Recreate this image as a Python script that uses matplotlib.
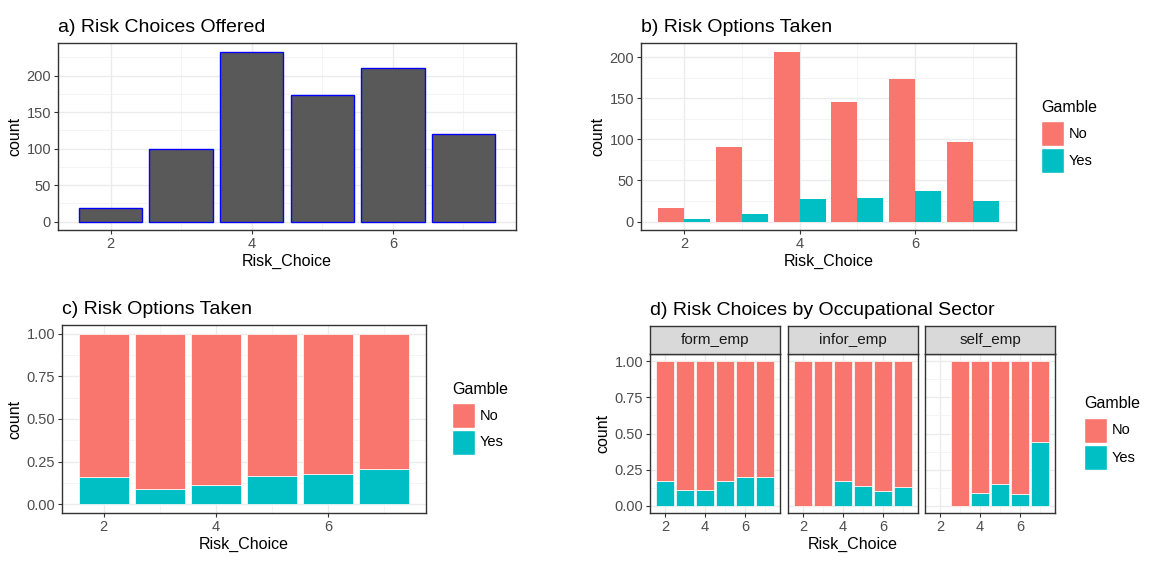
import matplotlib.pyplot as plt
import numpy as np
from matplotlib.patches import Rectangle

plt.rcParams["font.family"] = ["Liberation Sans", "DejaVu Sans"]

# data
risk_choice = np.array([2, 3, 4, 5, 6, 7])
offered = np.array([18, 100, 233, 174, 210, 120])
taken_no = np.array([16, 91, 207, 146, 174, 97])
taken_yes = np.array([3, 9, 27, 29, 37, 25])

sectors = ["form_emp", "infor_emp", "self_emp"]
form_emp_yes = np.array([0.17, 0.11, 0.11, 0.17, 0.20, 0.20])
infor_emp_yes = np.array([0.0, 0.0, 0.17, 0.14, 0.10, 0.13])
self_emp_yes = np.array([np.nan, 0.0, 0.09, 0.15, 0.08, 0.44])

gamble_labels = ["No", "Yes"]
gamble_colors = ["#F8766D", "#00BFC4"]

W, H = 1151, 563
fig = plt.figure(figsize=(W / 100, H / 100), dpi=100)


def px_axes(left, top, right, bottom):
    return fig.add_axes([left / W, 1 - bottom / H, (right - left) / W, (bottom - top) / H])


def style(ax, ymax, ystep, fmt="{:.0f}", ylabel=True):
    pad = ymax * 0.05
    ax.set_xticks([2, 4, 6])
    ax.set_xticks([3, 5, 7], minor=True)
    yt = np.arange(0, ymax + 1e-9, ystep)
    ax.set_yticks(yt)
    ax.set_yticks(yt + ystep / 2, minor=True)
    ax.set_yticklabels([fmt.format(v) for v in yt])
    # limits after ticks so the minor ticks don't widen the view
    ax.set_xlim(1.255, 7.745)
    ax.set_ylim(-pad, ymax + pad)
    ax.grid(which="major", color="#EBEBEB", lw=1.0)
    ax.grid(which="minor", color="#F2F2F2", lw=0.6)
    ax.set_axisbelow(True)
    for s in ax.spines.values():
        s.set_color("#333333")
        s.set_linewidth(1.0)
    ax.tick_params(which="major", length=3, color="#333333", width=0.8,
                   labelsize=10.5, labelcolor="#4D4D4D", pad=2)
    ax.tick_params(which="minor", length=0)
    ax.set_xlabel("Risk_Choice", fontsize=11.5, labelpad=2)
    if ylabel:
        ax.set_ylabel("count", fontsize=11.5, labelpad=3)


def gamble_legend(x, y_title, y_keys):
    fig.text(x / W, 1 - y_title / H, "Gamble", fontsize=11.5, va="center", ha="left")
    for i, (lab, col) in enumerate(zip(gamble_labels, gamble_colors)):
        top = y_keys + i * 27
        fig.add_artist(Rectangle((x / W, 1 - (top + 25) / H), 23 / W, 25 / H,
                                 facecolor=col, edgecolor="white", lw=1,
                                 transform=fig.transFigure))
        fig.text((x + 28) / W, 1 - (top + 12.5) / H, lab, fontsize=10.5,
                 va="center", ha="left")


# a) offered
ax = px_axes(58, 43, 516, 230)
ax.bar(risk_choice, offered, width=0.9, color="#595959", edgecolor="blue", lw=1)
style(ax, offered.max(), 50)
ax.set_title("a) Risk Choices Offered", loc="left", fontsize=14, pad=8)

# b) dodged counts
ax = px_axes(641, 43, 1016, 230)
ax.bar(risk_choice - 0.225, taken_no, width=0.45, color=gamble_colors[0])
ax.bar(risk_choice + 0.225, taken_yes, width=0.45, color=gamble_colors[1])
style(ax, taken_no.max(), 50)
ax.set_title("b) Risk Options Taken", loc="left", fontsize=14, pad=8)
gamble_legend(1041, 107, 121)

# c) filled proportions
total = taken_no + taken_yes
yes_share = taken_yes / total
ax = px_axes(62, 325, 426, 513)
ax.bar(risk_choice, yes_share, width=0.9, color=gamble_colors[1], edgecolor="white", lw=0.5)
ax.bar(risk_choice, 1 - yes_share, bottom=yes_share, width=0.9,
       color=gamble_colors[0], edgecolor="white", lw=0.5)
style(ax, 1.0, 0.25, "{:.2f}")
ax.set_title("c) Risk Options Taken", loc="left", fontsize=14, pad=8)
gamble_legend(452, 390, 403)

# d) faceted by sector
lefts = [650, 788, 925]
shares = [form_emp_yes, infor_emp_yes, self_emp_yes]
for k, (name, left, ys) in enumerate(zip(sectors, lefts, shares)):
    ax = px_axes(left, 354, left + 130, 513)
    ok = ~np.isnan(ys)
    ax.bar(risk_choice[ok], ys[ok], width=0.9, color=gamble_colors[1], edgecolor="white", lw=0.5)
    ax.bar(risk_choice[ok], 1 - ys[ok], bottom=ys[ok], width=0.9,
           color=gamble_colors[0], edgecolor="white", lw=0.5)
    style(ax, 1.0, 0.25, "{:.2f}", ylabel=(k == 0))
    if k != 0:
        ax.tick_params(axis="y", which="both", left=False, labelleft=False)
    if k != 1:
        ax.set_xlabel("")
    strip = px_axes(left, 326, left + 130, 354)
    strip.set_facecolor("#D9D9D9")
    strip.set_xticks([])
    strip.set_yticks([])
    for s in strip.spines.values():
        s.set_color("#333333")
        s.set_linewidth(1.0)
    strip.text(0.5, 0.5, name, ha="center", va="center", fontsize=11,
               color="#1A1A1A", transform=strip.transAxes)
    if k == 0:
        strip.set_title("d) Risk Choices by Occupational Sector", loc="left",
                        fontsize=14, pad=8)
gamble_legend(1084, 403, 418)

fig.savefig("out.png", dpi=100)
